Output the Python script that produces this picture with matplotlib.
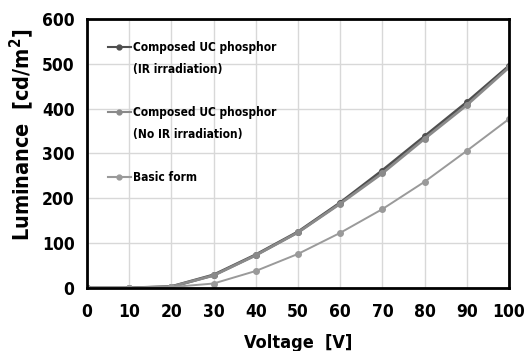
import matplotlib
matplotlib.use("Agg")
import matplotlib.pyplot as plt
from matplotlib.lines import Line2D

plt.rcParams['font.family'] = ['DejaVu Sans']
plt.rcParams['font.stretch'] = 'condensed'

voltage = [0, 10, 20, 30, 40, 50, 60, 70, 80, 90, 100]
lum_ir = [0, 0, 3, 29, 74, 125, 190, 262, 338, 414, 495]
lum_no_ir = [0, 0, 3, 28, 73, 124, 188, 256, 333, 408, 492]
lum_basic = [0, 0, 2, 10, 38, 76, 123, 176, 237, 306, 377]

# legend rows: first line, second line, gap, ...
legend_rows = ["Composed UC phosphor", "(IR irradiation)", " ",
               "Composed UC phosphor", "(No IR irradiation)", " ",
               "Basic form"]

fig = plt.figure(figsize=(5.26, 3.51), dpi=100)
ax = fig.add_axes([0.1654, 0.1795, 0.8023, 0.7664])

l1, = ax.plot(voltage, lum_ir, color='#4f4f4f', lw=2.2, marker='o', ms=4)
l2, = ax.plot(voltage, lum_no_ir, color='#8a8a8a', lw=2.0, marker='o', ms=4)
l3, = ax.plot(voltage, lum_basic, color='#9a9a9a', lw=1.4, marker='o', ms=4)

ax.set_xlim(0, 100)
ax.set_ylim(0, 600)
ax.set_xticks(range(0, 101, 10))
ax.set_yticks(range(0, 601, 100))
ax.grid(True, color='#d8d8d8', lw=1)
ax.set_axisbelow(True)
ax.tick_params(length=0, labelsize=12.5)
ax.tick_params(axis='x', pad=11)
ax.tick_params(axis='y', pad=9)
for t in ax.get_xticklabels() + ax.get_yticklabels():
    t.set_fontweight('bold')
for s in ax.spines.values():
    s.set_linewidth(2)
    s.set_color('black')

ax.set_xlabel("Voltage  [V]", fontsize=13, fontweight='bold', labelpad=9)
ax.set_ylabel("Luminance  [cd/m$^\\mathbf{2}$]", fontsize=15.5, fontweight='bold')
ax.yaxis.set_label_coords(-0.12, 0.57)

blank = Line2D([], [], color='none')
handles = [l1, blank, blank, l2, blank, blank, l3]
leg = ax.legend(handles, legend_rows, loc='upper left',
                bbox_to_anchor=(21 / 422, 1 - 22 / 269),
                frameon=False, handlelength=1.9, handletextpad=0.2,
                labelspacing=0.73, borderpad=0, borderaxespad=0,
                prop={'weight': 'bold', 'size': 8.6})
for h in leg.legend_handles:
    h.set_linewidth(1.5)
    h.set_markersize(3.5)

fig.savefig("out.png", dpi=100)
